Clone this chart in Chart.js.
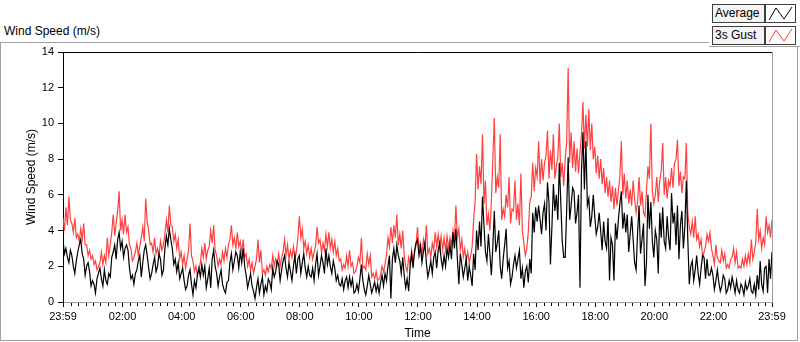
<!DOCTYPE html>
<html><head><meta charset="utf-8">
<script src="https://cdn.jsdelivr.net/npm/chart.js@4"></script>
<style>
html,body{margin:0;padding:0;background:#fff;width:800px;height:342px;overflow:hidden;font-family:"Liberation Sans",Arial,sans-serif;}
#frame{position:absolute;left:0;top:42px;width:796px;height:297px;border:1px solid #a0a0a0;}
#c{position:absolute;left:0;top:0;}
#ttl{position:absolute;left:4px;top:24px;font-size:12px;color:#000;white-space:nowrap;}
#legend{position:absolute;left:709px;top:0;width:91px;height:46px;background:#fff;border-bottom:1px solid #a0a0a0;}
.lt{position:absolute;left:3px;width:49px;height:17px;border:1px solid #404040;background:#f4f4f4;font-size:12px;line-height:17px;padding-left:2px;color:#000;white-space:nowrap;}
.li{position:absolute;left:56px;width:29px;height:17px;border:1px solid #404040;background:#fff;}
.li svg{position:absolute;left:0;top:0;}
</style></head>
<body>
<div id="frame"></div>
<div id="ttl">Wind Speed (m/s)</div>
<canvas id="c" width="800" height="342"></canvas>
<div id="legend">
  <div class="lt" style="top:4px">Average</div>
  <div class="li" style="top:4px"><svg width="29" height="17"><polyline points="3,15 10,3 18,14 26,2" fill="none" stroke="#000" stroke-width="1"/></svg></div>
  <div class="lt" style="top:26px">3s Gust</div>
  <div class="li" style="top:26px"><svg width="29" height="17"><polyline points="3,15 10,3 18,14 26,2" fill="none" stroke="rgb(255,64,64)" stroke-width="1"/></svg></div>
</div>
<script>
// Tick labels and their positions (minutes after 23:59 of the previous day)
const tickLabels = ['23:59','02:00','04:00','06:00','08:00','10:00','12:00','14:00','16:00','18:00','20:00','22:00','23:59'];
const tickMinutes = [0,121,241,361,481,601,721,841,961,1081,1201,1321,1440];
const SAMPLE_STEP_MIN = 3;

// 3s Gust (m/s), samples at 23:59 + 6k minutes
const gust = [
 4.7,5.3,5.9,4.4,4.7,3.8,4.1,4.4,3.2,2.9,2.6,2.3,2.0,2.8,2.6,3.6,3.2,4.9,4.4,6.2,
 4.6,4.9,4.2,3.0,2.5,3.3,3.1,4.2,5.8,4.0,3.3,3.6,3.0,3.4,3.2,4.6,5.4,4.2,3.8,3.5,
 2.8,2.6,2.4,4.4,2.3,2.0,1.8,3.0,3.3,2.9,4.0,4.3,2.6,2.4,2.8,3.0,3.2,4.3,3.6,3.9,
 3.4,3.5,2.7,2.4,2.2,2.0,3.5,2.9,1.8,2.0,2.1,2.6,2.4,2.7,2.5,3.5,3.2,2.9,3.1,2.8,
 4.8,4.1,3.4,3.2,3.0,2.8,4.2,3.5,3.3,3.8,3.9,3.5,3.4,3.0,2.4,2.1,2.6,2.9,2.2,1.7,
 2.5,3.6,2.0,2.7,2.6,1.6,1.7,1.3,2.0,2.1,3.6,4.2,4.3,4.9,3.8,4.0,2.0,2.5,2.9,2.7,
 4.2,3.3,3.5,4.3,3.0,3.3,3.9,3.8,3.7,3.6,3.7,3.6,4.0,5.4,4.1,3.5,3.0,2.8,2.6,4.6,
 8.3,7.6,9.4,6.8,4.9,5.6,10.3,7.0,9.4,5.2,6.0,7.0,5.2,6.8,5.5,7.2,3.3,3.0,5.6,7.8,
 7.5,9.0,8.0,7.8,9.6,8.5,9.4,7.6,10.0,7.8,8.0,13.1,9.5,9.0,8.6,8.4,11.2,10.5,10.8,10.0,
 8.7,8.2,8.0,7.5,7.0,6.8,6.5,6.4,6.2,9.0,7.2,6.8,6.3,6.8,5.0,7.0,6.2,4.8,7.6,10.0,
 5.5,7.0,6.8,8.9,7.0,6.8,7.5,7.8,9.1,7.3,7.0,8.9,4.2,4.5,4.8,3.8,3.5,2.8,3.8,3.9,
 2.6,3.2,2.3,2.9,2.7,2.1,2.4,3.0,2.8,2.0,2.4,2.6,2.7,3.5,2.8,5.2,4.0,3.6,4.8,4.3,4.6
];
// 3s Gust (m/s), in-between samples at 23:59 + 6k + 3 minutes
const gustHalf = [
 4.0,4.3,4.6,3.9,3.6,3.4,3.5,3.2,2.6,2.4,2.1,1.8,2.2,2.1,2.2,2.6,3.9,3.7,5.1,4.0,
 3.8,3.9,3.2,2.3,2.8,2.6,3.6,3.4,4.5,3.2,2.8,2.7,2.6,2.9,3.8,3.9,4.3,3.4,3.0,2.4,
 2.1,1.9,2.9,2.6,1.7,1.5,2.2,2.5,2.4,3.1,3.3,2.9,2.0,2.1,2.3,2.5,3.5,3.2,3.0,3.1,
 2.8,2.5,2.0,1.8,1.6,2.4,2.2,1.6,1.5,1.7,1.9,2.0,2.1,2.0,2.8,2.6,2.4,2.5,2.4,3.6,
 3.6,3.0,2.7,2.5,2.4,3.1,3.3,2.8,2.9,3.1,3.0,2.8,2.6,2.3,1.8,1.9,2.0,2.0,1.6,2.0,
 2.2,1.9,1.8,2.1,1.4,1.3,1.2,1.5,1.7,2.6,3.1,3.3,3.6,3.2,3.0,2.6,1.7,2.1,2.2,3.2,
 3.0,2.6,3.0,2.7,2.5,2.9,3.1,3.0,2.9,2.9,3.0,3.2,3.5,3.6,2.9,2.5,2.3,2.2,3.1,5.6,
 6.3,6.6,5.5,4.3,4.0,8.0,6.1,6.4,4.6,4.8,5.3,4.4,5.1,4.6,4.3,4.0,2.6,3.9,5.9,6.2,
 7.0,6.6,6.8,8.2,6.9,7.4,6.9,8.1,7.0,6.5,9.0,7.8,7.5,7.3,7.2,9.3,8.6,8.7,8.5,8.0,
 7.2,6.9,6.6,6.1,5.9,5.6,5.2,5.4,7.0,6.0,5.8,5.5,5.4,5.8,5.6,5.4,5.0,6.2,6.9,6.2,
 6.0,5.6,7.3,6.0,5.8,6.5,6.4,8.0,6.5,6.1,6.9,5.0,3.8,3.6,3.5,3.1,2.5,3.1,3.4,3.0,
 2.1,2.5,2.2,2.3,1.9,1.9,2.5,2.2,1.9,1.9,2.0,2.1,2.2,2.4,3.3,3.5,3.0,3.2,3.9,3.6
];

// Average (m/s), samples at 23:59 + 6k minutes
const average = [
 3.5,3.0,2.2,2.6,1.6,2.8,3.5,2.4,2.0,1.7,1.2,0.5,1.6,1.3,1.8,1.0,1.4,2.8,2.4,3.9,
 3.4,3.0,2.9,1.3,1.0,1.8,2.6,2.2,3.2,1.9,1.6,2.5,2.0,2.4,1.8,3.7,4.1,3.0,2.4,2.2,
 1.6,1.2,0.9,1.8,0.4,0.8,1.9,2.1,2.0,1.3,0.8,2.9,1.6,1.4,1.0,0.5,1.2,2.7,2.3,2.6,
 2.8,3.0,1.5,1.2,0.9,0.2,1.3,1.0,0.4,0.6,1.1,1.9,1.7,2.1,1.8,2.6,1.4,1.7,2.0,1.6,
 2.6,2.2,1.9,2.0,1.4,1.2,2.7,2.0,2.2,3.0,2.6,1.6,1.9,1.5,0.9,0.7,1.4,1.4,1.3,0.6,
 0.6,2.1,0.7,0.9,1.0,0.8,0.6,0.5,1.5,1.6,2.0,0.2,3.0,3.2,2.3,2.5,0.8,0.6,2.7,2.9,
 3.5,3.1,2.8,2.2,1.8,1.6,2.8,2.9,2.4,2.6,3.0,3.2,3.9,4.1,1.0,2.1,1.9,1.2,1.5,2.7,
 4.0,4.5,5.9,2.8,3.8,1.5,5.1,3.3,2.0,2.4,4.1,2.3,1.4,2.6,2.4,1.3,0.8,2.0,2.4,5.0,
 5.3,5.4,3.8,5.5,6.7,2.1,6.6,6.0,7.8,3.4,2.5,8.1,5.4,6.2,5.0,0.8,9.5,9.0,5.8,4.8,
 4.8,4.2,4.0,4.5,3.0,1.2,3.2,4.4,4.6,6.2,5.0,4.9,3.8,3.5,1.8,5.4,3.5,0.9,6.0,5.6,
 2.5,3.5,5.0,5.3,3.0,3.6,6.1,5.0,5.4,4.3,3.0,6.8,1.0,2.3,1.8,1.6,1.9,2.5,2.4,1.5,
 1.5,1.2,1.1,0.9,1.3,0.7,0.8,1.0,1.2,0.5,0.8,1.1,0.9,0.6,1.0,1.5,2.3,0.6,2.0,2.4,2.8
];
// Average (m/s), in-between samples at 23:59 + 6k + 3 minutes
const averageHalf = [
 2.7,2.5,2.9,2.0,2.3,3.2,2.7,1.5,2.2,0.9,1.0,1.3,1.9,0.9,1.2,1.6,2.5,3.2,3.5,3.0,
 2.5,3.2,1.9,1.5,1.6,2.3,1.4,2.9,2.6,1.3,2.1,1.7,2.7,1.5,3.0,3.2,3.5,2.1,1.7,1.3,
 1.9,0.7,1.5,1.0,1.2,1.5,1.4,1.5,0.8,1.9,2.4,2.0,0.9,1.8,0.7,1.1,2.2,1.8,2.8,1.9,
 2.2,2.0,0.8,1.6,0.6,0.8,0.5,1.4,0.9,1.3,0.7,1.4,2.3,1.2,2.3,1.9,2.2,1.2,2.6,2.4,
 1.6,2.7,1.4,1.5,1.9,2.1,1.5,2.6,1.6,2.1,2.0,2.3,1.2,1.0,1.3,1.2,0.8,0.9,0.5,1.0,
 1.3,1.2,0.4,1.5,0.5,1.1,1.0,1.1,0.9,1.2,2.6,2.4,2.2,2.6,1.6,1.5,1.3,2.0,1.9,3.3,
 2.6,2.2,3.3,1.4,2.3,2.5,1.9,3.3,1.9,2.0,2.5,2.4,3.0,2.4,2.7,1.4,2.4,2.0,0.9,1.8,
 2.9,3.1,4.3,2.3,2.7,3.1,2.8,4.0,1.3,3.2,1.9,1.0,2.1,1.9,2.9,1.9,1.7,1.1,1.6,3.9,
 4.5,4.6,5.0,4.0,5.6,4.2,5.1,4.6,5.6,2.5,5.2,4.6,6.4,4.4,6.0,7.3,6.3,5.4,4.2,6.0,
 3.8,5.0,2.9,3.4,4.7,3.6,1.2,3.5,5.5,4.1,3.9,2.8,4.8,2.2,3.9,2.7,4.4,2.2,4.1,3.4,
 4.0,1.6,3.6,3.4,4.8,2.9,4.4,3.2,2.4,5.1,4.2,3.5,2.0,1.2,2.6,1.0,2.6,1.3,1.5,1.9,
 0.7,1.8,0.6,1.5,0.5,1.2,1.4,0.5,0.7,1.0,0.4,0.7,1.3,0.5,0.4,0.7,1.0,1.9,0.5,1.3
];

// merge main and in-between samples into one time-ordered series
const merge = (main, half) => {
  const out = [];
  main.forEach((v, i) => { out.push(v); if (i < half.length) out.push(half[i]); });
  return out;
};
const toPoints = arr => arr.map((v, i) => ({x: i * SAMPLE_STEP_MIN, y: v}));
const FONT = '"Liberation Sans", Arial, sans-serif';

// minor ticks every 15 minutes
const minorTicks = [];
for (let k = 1; k < 96; k++) { if (k % 8 !== 0) minorTicks.push(1 + 15 * k); }

const framePlugin = {
  id: 'frame',
  afterDraw(chart) {
    const {ctx, chartArea: a, scales: {x}} = chart;
    ctx.save();
    ctx.lineWidth = 1;
    ctx.strokeStyle = '#000';
    ctx.beginPath(); ctx.moveTo(a.left, a.top + 0.5); ctx.lineTo(a.right, a.top + 0.5); ctx.stroke();
    ctx.strokeStyle = '#a0a0a0';
    ctx.beginPath(); ctx.moveTo(a.right + 0.5, a.top); ctx.lineTo(a.right + 0.5, a.bottom); ctx.stroke();
    ctx.strokeStyle = '#000';
    ctx.beginPath();
    minorTicks.forEach(t => {
      const px = Math.round(x.getPixelForValue(t)) + 0.5;
      ctx.moveTo(px, a.bottom + 1); ctx.lineTo(px, a.bottom + 4);
    });
    ctx.stroke();
    ctx.restore();
  }
};

new Chart(document.getElementById('c'), {
  type: 'line',
  data: {
    datasets: [
      {label: 'Average', data: toPoints(merge(average, averageHalf)), borderColor: '#000', borderWidth: 1.2, pointRadius: 0, tension: 0},
      {label: '3s Gust', data: toPoints(merge(gust, gustHalf)), borderColor: 'rgb(255,64,64)', borderWidth: 1.2, pointRadius: 0, tension: 0}
    ]
  },
  options: {
    responsive: false, animation: false, devicePixelRatio: 1,
    layout: {padding: {left: 0, right: 28, top: 52, bottom: 0}},
    plugins: {legend: {display: false}, tooltip: {enabled: false}},
    scales: {
      x: {
        type: 'linear', min: 0, max: 1440,
        afterBuildTicks: s => { s.ticks = tickMinutes.map(v => ({value: v})); },
        afterFit: s => { s.height = 40; },
        ticks: {autoSkip: false, maxRotation: 0, padding: 3, color: '#000', font: {family: FONT, size: 11},
          callback: v => { const i = tickMinutes.indexOf(v); return i >= 0 ? tickLabels[i] : ''; }},
        grid: {drawOnChartArea: false, drawTicks: true, tickLength: 5, tickColor: '#000'},
        border: {color: '#a0a0a0'},
        title: {display: true, text: 'Time', color: '#000', font: {family: FONT, size: 12}, padding: {top: 0, bottom: 1}}
      },
      y: {
        min: 0, max: 14,
        afterFit: s => { s.width = 63; },
        ticks: {stepSize: 2, padding: 4, color: '#000', font: {family: FONT, size: 11}},
        grid: {drawOnChartArea: false, drawTicks: true, tickLength: 5, tickColor: '#000'},
        border: {color: '#000'},
        title: {display: true, text: 'Wind Speed (m/s)', color: '#000', font: {family: FONT, size: 12}, padding: {top: 24, bottom: 0}}
      }
    }
  },
  plugins: [framePlugin]
});
</script>
</body></html>
